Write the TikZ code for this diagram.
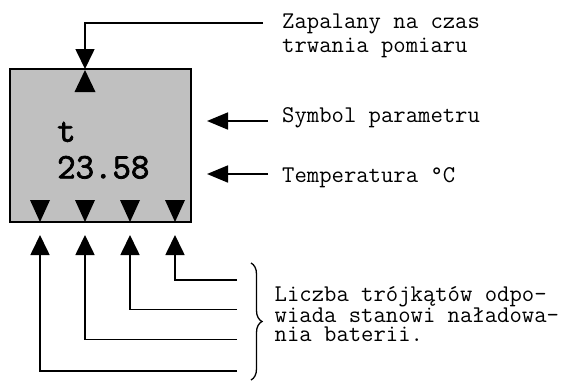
\documentclass[tikz,border=0pt]{standalone}
\usepackage{fontspec}
\newfontfamily\dispfont{Latin Modern Mono}[FakeBold=2.2]
\usetikzlibrary{arrows.meta,decorations.pathreplacing}
\definecolor{lcdgray}{HTML}{C0C0C0}
\tikzset{
  conn/.style={line width=1.7pt},
  bigtip/.style={-{Triangle[length=20pt,width=19pt]}},
  sidetip/.style={-{Triangle[length=21pt,width=17pt]}},
  lbl/.style={font=\ttfamily\fontsize{24}{24.5}\selectfont, inner sep=0pt, anchor=base west, align=left},
  disptext/.style={font=\dispfont\fontsize{35.8}{36}\selectfont, inner sep=0pt, anchor=base west},
}
\begin{document}
\begin{tikzpicture}[x=1pt,y=-1pt]
\useasboundingbox (0,0) rectangle (571,383);
% display
\node[draw, fill=lcdgray, line width=1.8pt, minimum width=181pt, minimum height=153pt, inner sep=0pt] (disp) at (100.5,145.5) {};
\node[disptext] (sym) at (57,141.7) {t};
\node[disptext] (val) at (57,178.3) {23.58};
% inner triangles
\fill (85,70) -- (95.5,92) -- (74.5,92) -- cycle;
\foreach \x in {40,85,130,175}{
  \fill (\x,222) -- (\x+10,200) -- (\x-10,200) -- cycle;
}
% labels (base west = baseline of last line)
\node[lbl] (zap) at (282,52.8) {Zapalany na czas\\trwania pomiaru};
\node[lbl] (symlbl) at (282,122.7) {Symbol parametru};
\node[lbl] (templbl) at (282,182.5) {Temperatura °C};
\node[lbl, font=\ttfamily\fontsize{24}{19.3}\selectfont] (bat) at (274.5,341.7) {Liczba trójkątów odpo-\\wiada stanowi naładowa-\\nia baterii.};
% coordinates
\coordinate (zapend) at (263,23);
\coordinate (ledtop) at (85,69);
\coordinate (symend) at (268,121);
\coordinate (symtip) at (207,121);
\coordinate (tempend) at (268,174);
\coordinate (temptip) at (207,174);
\coordinate (b1) at (237,280);
\coordinate (b2) at (237,309.5);
\coordinate (b3) at (237,339.5);
\coordinate (b4) at (237,371);
\coordinate (t1) at (175,235);
\coordinate (t2) at (130,235);
\coordinate (t3) at (85,235);
\coordinate (t4) at (40,235);
% connectors
\draw[conn,bigtip] (zapend) -| (ledtop);
\draw[conn,sidetip] (symend) -- (symtip);
\draw[conn,sidetip] (tempend) -- (temptip);
\draw[conn,bigtip] (b1) -| (t1);
\draw[conn,bigtip] (b2) -| (t2);
\draw[conn,bigtip] (b3) -| (t3);
\draw[conn,bigtip] (b4) -| (t4);
% brace
\draw[line width=1.3pt, decorate, decoration={brace, amplitude=11pt}] (251,263) -- (251,380);
\end{tikzpicture}
\end{document}
